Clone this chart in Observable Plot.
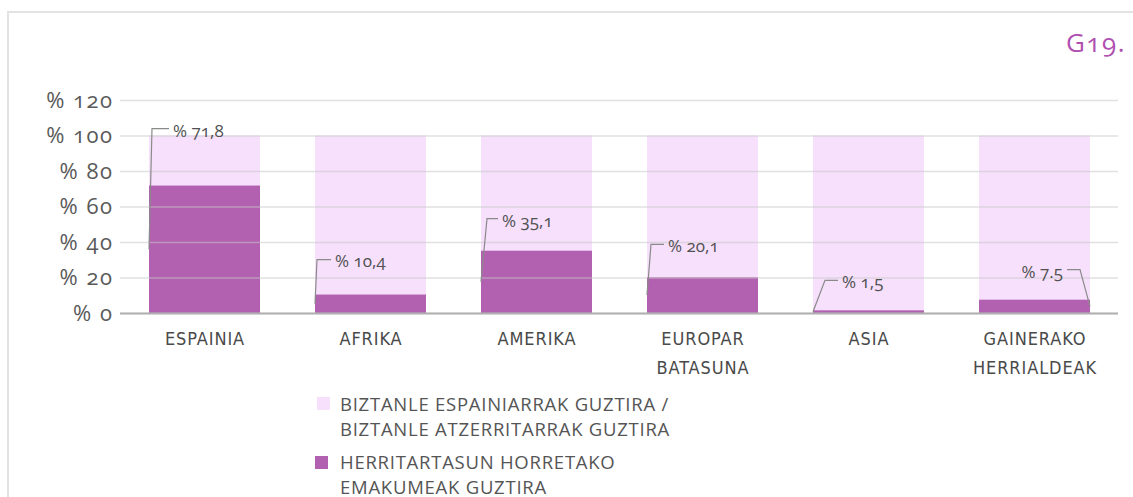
<!DOCTYPE html>
<html>
<head>
<meta charset="utf-8">
<script src="https://cdn.jsdelivr.net/npm/d3@7"></script>
<script src="https://cdn.jsdelivr.net/npm/@observablehq/plot@0.6"></script>
<style>
  body { margin: 0; background: #fff; }
  #wrap { position: relative; width: 1133px; height: 497px; font-family: "Open Sans", sans-serif; }
  #frame { position: absolute; left: 7px; top: 11px; right: 0; bottom: 0; border-left: 2px solid #e3e3e3; border-top: 2px solid #e3e3e3; }
  #title { position: absolute; right: 7px; top: 24px; color: #b050b0; font-size: 26px; font-variant-numeric: oldstyle-nums; letter-spacing: 1.5px; }
  #chart { position: absolute; left: 0; top: 0; }
  .leg { position: absolute; left: 340px; color: #555; font-size: 18.5px; line-height: 18px; letter-spacing: 0.75px; }
  .leg div { height: 18px; margin-bottom: 7px; white-space: nowrap; }
  .sw { position: absolute; width: 13px; height: 13px; }
</style>
</head>
<body>
<div id="wrap">
  <div id="frame"></div>
  <div id="chart"></div>
  <div id="title"></div>
  <div class="sw" id="sw1" style="left:317px;top:397px;"></div>
  <div class="leg" id="leg1" style="top:395px;"></div>
  <div class="sw" id="sw2" style="left:315px;top:456px;"></div>
  <div class="leg" id="leg2" style="top:453px;"></div>
</div>
<script>
// ---- data ----
const categories = ["ESPAINIA", "AFRIKA", "AMERIKA", "EUROPAR\nBATASUNA", "ASIA", "GAINERAKO\nHERRIALDEAK"];
const totalValues = [100, 100, 100, 100, 100, 100];
const womenValues = [71.8, 10.4, 35.1, 20.1, 1.5, 7.5];
const valueLabels = ["% 71,8", "% 10,4", "% 35,1", "% 20,1", "% 1,5", "% 7.5"];
const yTicks = [0, 20, 40, 60, 80, 100, 120];
const seriesNames = ["BIZTANLE ESPAINIARRAK GUZTIRA /\nBIZTANLE ATZERRITARRAK GUZTIRA", "HERRITARTASUN HORRETAKO\nEMAKUMEAK GUZTIRA"];
const chartTitle = "G19.";

// ---- layout / style for callouts (pixel offsets) ----
const callouts = [
  { side: "left", rise: 55, elbow: 3, arm: 17 },
  { side: "left", rise: 33, elbow: 2, arm: 14 },
  { side: "left", rise: 30, elbow: 6, arm: 11 },
  { side: "left", rise: 31, elbow: 4, arm: 13 },
  { side: "left", rise: 28, elbow: 12, arm: 13 },
  { side: "right", rise: 28, elbow: 10, arm: 13 }
];
const pink = "#f6e0fc", purple = "#b260b0";

const table = categories.map((c, i) => ({ cat: c, total: totalValues[i], women: womenValues[i] }));

const plot = Plot.plot({
  width: 1133,
  height: 400,
  marginTop: 100,
  marginBottom: 87,
  marginLeft: 120,
  marginRight: 15,
  style: { background: "transparent", overflow: "visible" },
  x: { domain: categories, paddingInner: 0.333, paddingOuter: 0.1667 },
  y: { domain: [0, 120] },
  marks: [
    Plot.barY(table, { x: "cat", y: "total", fill: pink }),
    Plot.barY(table, { x: "cat", y: "women", fill: purple }),
    Plot.gridY(yTicks, { stroke: "#c8c8c8", strokeOpacity: 0.55, strokeWidth: 1.5 }),
    Plot.ruleY([0], { stroke: "#b0b0b0", strokeWidth: 2 }),
    Plot.axisY(yTicks, {
      tickSize: 0, tickPadding: 7, tickFormat: d => "% " + d,
      fontSize: 22, fill: "#5a5a5a", label: null,
      fontFamily: "Open Sans"
    }),
    Plot.axisX({
      tickSize: 0, tickPadding: 11, label: null, lineHeight: 1.6,
      fontSize: 18, fill: "#4a4a4a",
      fontFamily: "DejaVu Sans Condensed, DejaVu Sans"
    })
  ]
});

document.getElementById("chart").appendChild(plot);

// style axis text
d3.select(plot).selectAll("[aria-label='y-axis tick label'] text")
  .style("font-variant-numeric", "oldstyle-nums").style("letter-spacing", "1.5px");
d3.select(plot).selectAll("[aria-label='x-axis tick label'] text")
  .style("font-stretch", "condensed").style("letter-spacing", "0.9px");

// callouts placed with Plot's scales
const sx = plot.scale("x"), sy = plot.scale("y");
const bw = sx.bandwidth;
const g = d3.select(plot).append("g").attr("aria-label", "callouts");
categories.forEach((c, i) => {
  const cfg = callouts[i];
  const left = sx.apply(c);
  const dir = cfg.side === "left" ? 1 : -1;
  const edge = dir > 0 ? left : left + bw;
  const y0 = sy.apply(womenValues[i] / 2);
  const ty = sy.apply(womenValues[i]) - cfg.rise;
  const ly = ty - 2;
  const x1 = edge + dir * cfg.elbow, x2 = x1 + dir * cfg.arm;
  g.append("path")
    .attr("d", `M${edge},${y0}L${x1},${ly}L${x2},${ly}`)
    .attr("fill", "none").attr("stroke", "#8a8a8a").attr("stroke-width", 1.2);
  g.append("text")
    .attr("x", x2 + dir * 4).attr("y", ty)
    .attr("dy", "0.35em")
    .attr("text-anchor", dir > 0 ? "start" : "end")
    .attr("font-family", "Open Sans").attr("font-size", 17)
    .attr("fill", "#505050").style("font-variant-numeric", "oldstyle-nums")
    .text(valueLabels[i]);
});

// title and legend
document.getElementById("title").textContent = chartTitle;
document.getElementById("sw1").style.background = pink;
document.getElementById("sw2").style.background = purple;
function fillLegend(id, text) {
  const el = document.getElementById(id);
  text.split("\n").forEach(line => {
    const d = document.createElement("div");
    d.textContent = line;
    el.appendChild(d);
  });
}
fillLegend("leg1", seriesNames[0]);
fillLegend("leg2", seriesNames[1]);
</script>
</body>
</html>
